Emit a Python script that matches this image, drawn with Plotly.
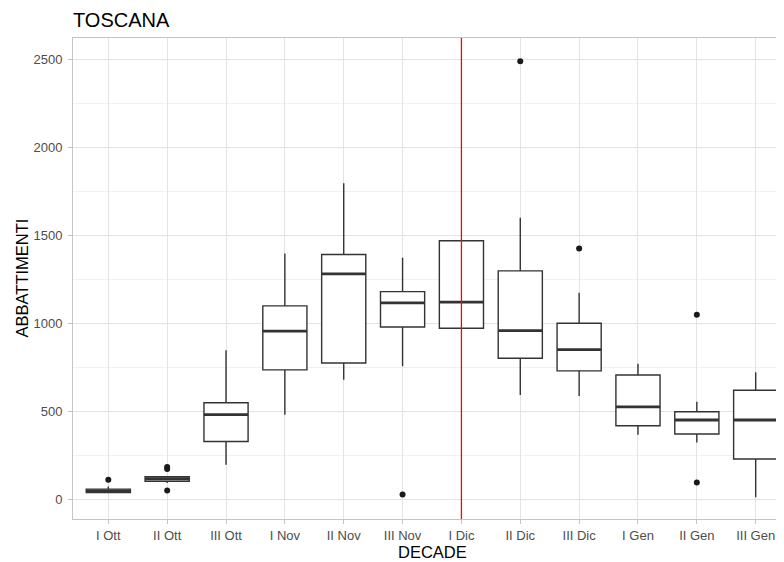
import plotly.graph_objects as go

# ---- data ----
categories = ["I Ott", "II Ott", "III Ott", "I Nov", "II Nov", "III Nov",
              "I Dic", "II Dic", "III Dic", "I Gen", "II Gen", "III Gen"]
q1 = [38, 102, 328, 735, 774, 979, 972, 801, 729, 417, 370, 228]
median = [47, 116, 480, 955, 1281, 1116, 1120, 958, 850, 524, 450, 450]
q3 = [57, 127, 548, 1099, 1391, 1180, 1469, 1298, 1000, 706, 497, 619]
lower_whisker = [36, 91, 195, 480, 679, 755, 972, 592, 586, 366, 322, 11]
upper_whisker = [72, 127, 846, 1397, 1796, 1373, 1469, 1600, 1173, 770, 554, 721]
outlier_category = ["I Ott", "II Ott", "II Ott", "II Ott", "III Nov", "II Dic",
                    "III Dic", "II Gen", "II Gen"]
outlier_value = [110, 182, 171, 49, 26, 2490, 1425, 1048, 95]
vline_category = "I Dic"
y_ticks = [0, 500, 1000, 1500, 2000, 2500]

# ---- styling ----
BOX_COLOR = "#333333"
GRID = "#E3E3E3"
MINOR_GRID = "#F0F0F0"
BORDER = "#C4C4C4"
FONT = "Liberation Sans, Arial, sans-serif"
BOX_WIDTH = 0.75
Y_RANGE = [-113, 2622]

pos = list(range(len(categories)))
idx = {c: i for i, c in enumerate(categories)}

fig = go.Figure()

fig.add_trace(go.Box(
    x=pos, q1=q1, median=median, q3=q3,
    lowerfence=lower_whisker, upperfence=upper_whisker,
    width=BOX_WIDTH, whiskerwidth=0, boxpoints=False,
    fillcolor="white", line=dict(color=BOX_COLOR, width=1.4),
    showlegend=False, hoverinfo="skip",
))

# thicker median lines (ggplot fatten = 2)
mx, my = [], []
for p, m in zip(pos, median):
    mx += [p - BOX_WIDTH / 2, p + BOX_WIDTH / 2, None]
    my += [m, m, None]
fig.add_trace(go.Scatter(x=mx, y=my, mode="lines",
                         line=dict(color=BOX_COLOR, width=2.8),
                         showlegend=False, hoverinfo="skip"))

fig.add_trace(go.Scatter(
    x=[idx[c] for c in outlier_category], y=outlier_value, mode="markers",
    marker=dict(color="#1A1A1A", size=6), showlegend=False, hoverinfo="skip"))

# red vertical reference line at I Dic
fig.add_trace(go.Scatter(
    x=[idx[vline_category]] * 2, y=Y_RANGE, mode="lines",
    line=dict(color="#FF0000", width=1.3), showlegend=False, hoverinfo="skip"))

fig.update_layout(
    width=784, height=562,
    margin=dict(l=65, r=1, t=30, b=51, autoexpand=False),
    paper_bgcolor="white", plot_bgcolor="white",
    font=dict(family=FONT, color="#4D4D4D", size=13),
    title=dict(text="TOSCANA", font=dict(size=20, color="black", family=FONT),
               xref="paper", x=0, xanchor="left", automargin=False,
               yref="container", y=1 - 12 / 562, yanchor="middle"),
    xaxis=dict(
        range=[-0.6, 11.6], tickmode="array", tickvals=pos, ticktext=categories,
        automargin=False,
        showgrid=True, gridcolor=GRID, gridwidth=1, zeroline=False,
        showline=True, mirror=True, linecolor=BORDER, linewidth=1,
        ticks="outside", ticklen=4, tickcolor=BORDER,
        tickfont=dict(size=13, color="#4D4D4D"),
    ),
    yaxis=dict(
        range=Y_RANGE, tickvals=y_ticks,
        automargin=False,
        showgrid=True, gridcolor=GRID, gridwidth=1, zeroline=False,
        showline=True, linecolor=BORDER, linewidth=1,
        ticks="outside", ticklen=4, tickcolor=BORDER, ticklabelstandoff=3,
        tickfont=dict(size=13, color="#4D4D4D"),
        minor=dict(dtick=250, tick0=0, showgrid=True, gridcolor=MINOR_GRID,
                   gridwidth=0.6, ticks=""),
    ),
    annotations=[
        dict(text="DECADE", xref="x", x=5.5, yref="paper", y=0, yshift=-33,
             yanchor="middle", showarrow=False,
             font=dict(size=16.5, color="black", family=FONT)),
        dict(text="ABBATTIMENTI", xref="paper", x=0, xshift=-52, xanchor="center",
             yref="paper", y=0.5, yanchor="middle", textangle=-90, showarrow=False,
             font=dict(size=16.5, color="black", family=FONT)),
    ],
)

fig.write_html("out.html")
